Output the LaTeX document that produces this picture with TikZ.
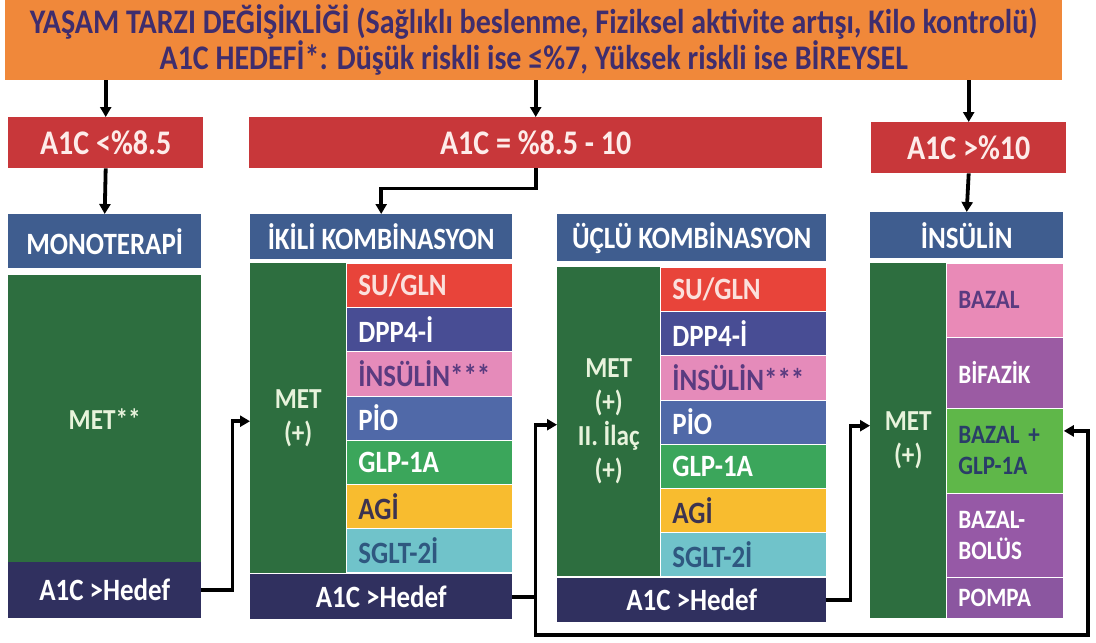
\documentclass[tikz,border=0pt]{standalone}
\usepackage{fontspec}
\setmainfont{Carlito}[FakeStretch=0.87]
\usetikzlibrary{arrows.meta}
\definecolor{bannerorange}{HTML}{F0883A}
\definecolor{bantext}{HTML}{3F2D6D}
\definecolor{boxred}{HTML}{C8373A}
\definecolor{headblue}{HTML}{3F5D8F}
\definecolor{metgreen}{HTML}{2D6E3F}
\definecolor{hedefnavy}{HTML}{30305F}
\definecolor{sured}{HTML}{E8443A}
\definecolor{sutext}{HTML}{FBE0DC}
\definecolor{dppblue}{HTML}{484D94}
\definecolor{inspink}{HTML}{E58BBA}
\definecolor{instext}{HTML}{5A3B80}
\definecolor{pioblue}{HTML}{5069A8}
\definecolor{glpgreen}{HTML}{3BA65B}
\definecolor{agiyellow}{HTML}{F8BC2F}
\definecolor{agitext}{HTML}{3C3350}
\definecolor{sglteal}{HTML}{70C3CA}
\definecolor{sgltext}{HTML}{2F5880}
\definecolor{bazpink}{HTML}{E98AB7}
\definecolor{bifpurple}{HTML}{9B5BA3}
\definecolor{bgreen}{HTML}{5FB749}
\definecolor{bgtext}{HTML}{2A3D68}
\definecolor{bolpurple}{HTML}{9659A6}
\definecolor{pompurple}{HTML}{8B56A0}
\definecolor{mettext}{HTML}{E8F3DC}
\definecolor{redtext}{HTML}{FDECEA}

\begin{document}
\begin{tikzpicture}[x=1pt,y=-1pt,
  box/.style={rectangle, inner sep=0pt, anchor=north west},
  banner/.style={box, fill=bannerorange, text=bantext, align=center,
    font=\fontsize{34.5}{32}\selectfont\bfseries},
  redbox/.style={box, fill=boxred, text=redtext, minimum height=51pt,
    font=\fontsize{34.5}{36}\selectfont\bfseries},
  headbox/.style={box, fill=headblue, text=white,
    font=\fontsize{31}{32}\selectfont\bfseries},
  metbox/.style={box, fill=metgreen, text=mettext, align=center,
    font=\fontsize{29}{34}\selectfont\bfseries},
  hedefbox/.style={box, fill=hedefnavy, text=white,
    font=\fontsize{31}{32}\selectfont\bfseries},
  drug/.style={box, text width=#1, inner xsep=12pt, align=left,
    minimum height=44.2pt, draw=white, line width=0.8pt,
    font=\fontsize{31}{32}\selectfont\bfseries},
  insdrug/.style={box, text width=93pt, inner xsep=12pt, align=left,
    draw=white, line width=0.8pt,
    font=\fontsize{26.5}{31}\selectfont\bfseries},
  arr/.style={line width=3.8pt, -{Triangle[length=10pt,width=11pt]}}]
\useasboundingbox (0,0) rectangle (1096,643);
% top banner and A1C levels
\node[banner, minimum width=1057pt, minimum height=80pt] (ban) at (5,0)
  {YAŞAM TARZI DEĞİŞİKLİĞİ (Sağlıklı beslenme, Fiziksel aktivite artışı, Kilo kontrolü)\\
   A1C HEDEFİ*: Düşük riskli ise ≤\%7, Yüksek riskli ise BİREYSEL};
\node[redbox, minimum width=195pt] (r1) at (8,117) {A1C <\%8.5};
\node[redbox, minimum width=573pt] (r2) at (249,117) {A1C = \%8.5 - 10};
\node[redbox, minimum width=195pt] (r3) at (871,122) {A1C >\%10};
%
% monoterapi
\node[headbox, minimum width=193pt, minimum height=54pt] (h1) at (8,214) {MONOTERAPİ};
\node[metbox, minimum width=193pt, minimum height=287pt] (g1) at (8,275) {MET**};
\node[hedefbox, minimum width=193pt, minimum height=56pt] (n1) at (8,562) {A1C >Hedef};
%
% ikili kombinasyon
\node[headbox, minimum width=262pt, minimum height=45pt] (h2) at (250,214) {İKİLİ KOMBİNASYON};
\node[metbox, minimum width=96pt, minimum height=310pt] (g2) at (250,263) {MET\\(+)};
\node[drug=142pt, fill=sured, text=sutext] (a21) at (346,263) {SU/GLN};
\node[drug=142pt, fill=dppblue, text=white] (a22) at (346,307.2) {DPP4-İ};
\node[drug=142pt, fill=inspink, text=instext] (a23) at (346,351.4) {İNSÜLİN***};
\node[drug=142pt, fill=pioblue, text=white] (a24) at (346,395.6) {PİO};
\node[drug=142pt, fill=glpgreen, text=white] (a25) at (346,439.8) {GLP-1A};
\node[drug=142pt, fill=agiyellow, text=agitext] (a26) at (346,484) {AGİ};
\node[drug=142pt, fill=sglteal, text=sgltext] (a27) at (346,528.2) {SGLT-2İ};
\node[hedefbox, minimum width=262pt, minimum height=45pt] (n2) at (250,574) {A1C >Hedef};
%
% uclu kombinasyon
\node[headbox, minimum width=269pt, minimum height=47pt] (h3) at (557,214) {ÜÇLÜ KOMBİNASYON};
\node[metbox, minimum width=103pt, minimum height=309pt] (g3) at (557,267) {MET\\(+)\\II. İlaç\\(+)};
\node[drug=142pt, fill=sured, text=sutext] (a31) at (660,267) {SU/GLN};
\node[drug=142pt, fill=dppblue, text=white] (a32) at (660,311.2) {DPP4-İ};
\node[drug=142pt, fill=inspink, text=instext] (a33) at (660,355.4) {İNSÜLİN***};
\node[drug=142pt, fill=pioblue, text=white] (a34) at (660,399.6) {PİO};
\node[drug=142pt, fill=glpgreen, text=white] (a35) at (660,443.8) {GLP-1A};
\node[drug=142pt, fill=agiyellow, text=agitext] (a36) at (660,488) {AGİ};
\node[drug=142pt, fill=sglteal, text=sgltext] (a37) at (660,532.2) {SGLT-2İ};
\node[hedefbox, minimum width=269pt, minimum height=44pt] (n3) at (557,578) {A1C >Hedef};
%
% insulin
\node[headbox, minimum width=193pt, minimum height=46pt] (h4) at (870,212) {İNSÜLİN};
\node[metbox, minimum width=76pt, minimum height=355pt] (g4) at (870,263) {MET\\(+)};
\node[insdrug, fill=bazpink, text=instext, minimum height=74pt] (b41) at (946,263) {BAZAL};
\node[insdrug, fill=bifpurple, text=white, minimum height=71pt] (b42) at (946,337) {BİFAZİK};
\node[insdrug, fill=bgreen, text=bgtext, minimum height=85pt] (b43) at (946,408) {BAZAL +\\GLP-1A};
\node[insdrug, fill=bolpurple, text=white, minimum height=84pt] (b44) at (946,493) {BAZAL-\\BOLÜS};
\node[insdrug, fill=pompurple, text=white, minimum height=41pt] (b45) at (946,577) {POMPA};
%
% connectors
\draw[arr] (ban.south -| r1.north) -- (r1.north);
\draw[arr] (ban.south -| r2.north) -- (r2.north);
\draw[arr] (ban.south -| r3.north) -- (r3.north);
\draw[arr] (r1.south) -- (h1.north);
\draw[arr] (r2.south) -- ++(0,20) -| (h2.north);
\draw[arr] (r3.south) -- (h4.north);
\draw[arr] (n1.east) -- ++(31,0) |- ([yshift=-3pt]g2.west);
\draw[arr] (n2.east) -- ++(23,0) coordinate (j2) |- ([yshift=-3pt]g3.west);
\coordinate (loopr) at (1088,635);
\draw[arr] (j2) |- (loopr) |- ([yshift=20pt]b43.east);
\draw[arr] (n3.east) -- ++(24,0) |- ([yshift=15pt]g4.west);
\end{tikzpicture}
\end{document}
